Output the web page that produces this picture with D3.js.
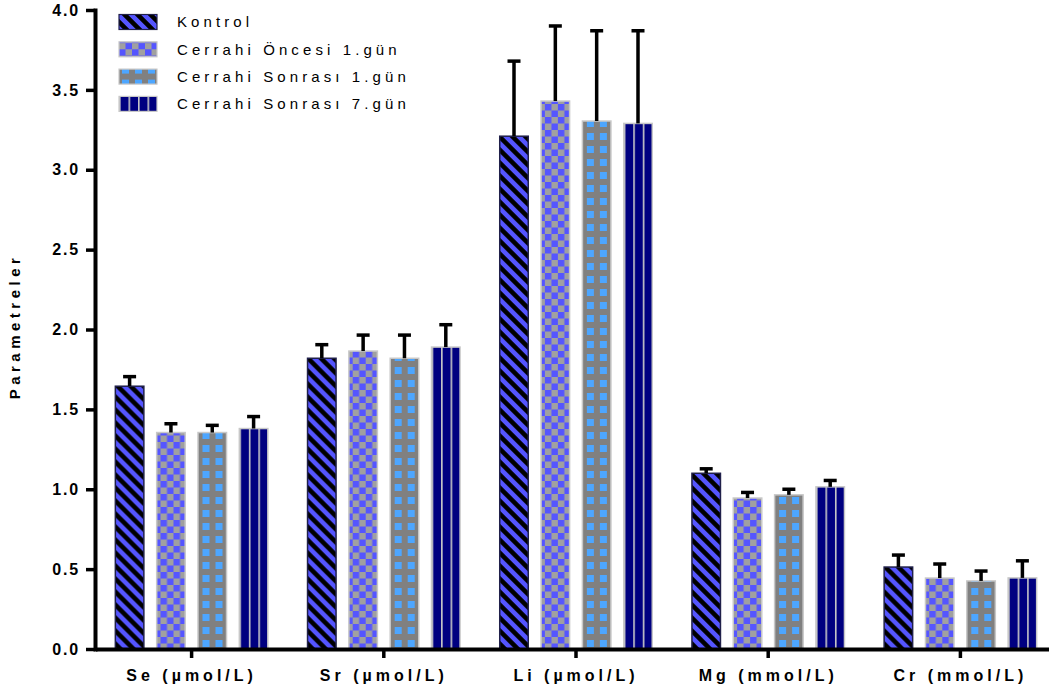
<!DOCTYPE html>
<html>
<head>
<meta charset="utf-8">
<script src="https://cdn.jsdelivr.net/npm/d3@7"></script>
<style>
  html, body { margin: 0; padding: 0; background: #fff; }
  svg { display: block; font-family: "Liberation Sans", Arial, sans-serif; }
</style>
</head>
<body>
<div id="chart"></div>
<script>
// data
const categories = ['Se (µmol/L)', 'Sr (µmol/L)', 'Li (µmol/L)', 'Mg (mmol/L)', 'Cr (mmol/L)'];
const seriesNames = ['Kontrol', 'Cerrahi Öncesi 1.gün', 'Cerrahi Sonrası 1.gün', 'Cerrahi Sonrası 7.gün'];
const kontrol = [1.645, 1.82, 3.21, 1.10, 0.513];
const oncesi1 = [1.355, 1.865, 3.43, 0.945, 0.444];
const sonrasi1 = [1.355, 1.82, 3.305, 0.965, 0.426];
const sonrasi7 = [1.38, 1.89, 3.29, 1.015, 0.445];
const kontrolErr = [0.06, 0.085, 0.47, 0.028, 0.075];
const oncesi1Err = [0.055, 0.10, 0.47, 0.035, 0.088];
const sonrasi1Err = [0.045, 0.145, 0.565, 0.035, 0.062];
const sonrasi7Err = [0.075, 0.14, 0.58, 0.04, 0.107];
const yTicks = [0, 0.5, 1.0, 1.5, 2.0, 2.5, 3.0, 3.5, 4.0];

const values = [kontrol, oncesi1, sonrasi1, sonrasi7];
const errors = [kontrolErr, oncesi1Err, sonrasi1Err, sonrasi7Err];

const width = 1049;
const height = 698;
const margin = { top: 10, right: -7, bottom: 49, left: 95 };

const svg = d3.select('#chart').append('svg')
  .attr('width', width)
  .attr('height', height);

svg.append('rect').attr('width', width).attr('height', height).attr('fill', '#fff');

// patterns
const defs = svg.append('defs');

const pK = defs.append('pattern').attr('id', 'pat0')
  .attr('patternUnits', 'userSpaceOnUse').attr('width', 13).attr('height', 13);
pK.append('rect').attr('width', 13).attr('height', 13).attr('fill', '#5555ff');
pK.append('path').attr('d', 'M-6,-6L19,19M-19,-6L6,19M7,-6L32,19')
  .attr('stroke', '#000').attr('stroke-width', 4.6);

const pO = defs.append('pattern').attr('id', 'pat1')
  .attr('patternUnits', 'userSpaceOnUse').attr('width', 13).attr('height', 13);
pO.append('rect').attr('width', 13).attr('height', 13).attr('fill', '#a0a0a0');
pO.append('rect').attr('width', 6.5).attr('height', 6.5).attr('fill', '#5555ff');
pO.append('rect').attr('x', 6.5).attr('y', 6.5).attr('width', 6.5).attr('height', 6.5).attr('fill', '#5555ff');

const pS1 = defs.append('pattern').attr('id', 'pat2')
  .attr('patternUnits', 'userSpaceOnUse').attr('width', 13).attr('height', 13);
pS1.append('rect').attr('width', 13).attr('height', 13).attr('fill', '#808080');
pS1.append('rect').attr('x', 3).attr('y', 3).attr('width', 7).attr('height', 7).attr('fill', '#4da6ff');

function stripePattern(id, frac) {
  const p = defs.append('pattern').attr('id', id)
    .attr('patternUnits', 'objectBoundingBox').attr('width', frac).attr('height', 1);
  p.append('rect').attr('width', 100).attr('height', 1000).attr('fill', '#000080');
  p.append('rect').attr('width', 1.6).attr('height', 1000).attr('fill', '#c8c8c8');
}
stripePattern('pat3', 1 / 3);
stripePattern('pat3L', 1 / 4);

const strokes = ['#20204a', '#c8c8c8', '#c8c8c8', '#c8c8c8'];

// scales
const x0 = d3.scaleBand()
  .domain(categories)
  .range([margin.left + 0.5, width - margin.right + 0.5]);

const x1 = d3.scaleBand()
  .domain(d3.range(seriesNames.length))
  .range([0, x0.bandwidth()])
  .paddingInner(0.31)
  .paddingOuter(0.48);

const y = d3.scaleLinear()
  .domain([0, 4])
  .range([height - margin.bottom, margin.top]);

// bars
const groups = svg.append('g').selectAll('g')
  .data(categories)
  .join('g')
  .attr('transform', d => `translate(${x0(d)},0)`);

const bars = groups.selectAll('g')
  .data((c, ci) => values.map((v, si) => ({ s: si, v: v[ci], e: errors[si][ci] })))
  .join('g');

bars.append('rect')
  .attr('x', d => x1(d.s))
  .attr('y', d => y(d.v))
  .attr('width', x1.bandwidth())
  .attr('height', d => y(0) - y(d.v))
  .attr('fill', d => `url(#pat${d.s})`)
  .attr('stroke', d => strokes[d.s])
  .attr('stroke-width', 1.5);

// error bars (upper only)
bars.append('line')
  .attr('x1', d => x1(d.s) + x1.bandwidth() / 2)
  .attr('x2', d => x1(d.s) + x1.bandwidth() / 2)
  .attr('y1', d => y(d.v))
  .attr('y2', d => y(d.v + d.e))
  .attr('stroke', '#000')
  .attr('stroke-width', 3.5);

bars.append('line')
  .attr('x1', d => x1(d.s) + x1.bandwidth() / 2 - 6.5)
  .attr('x2', d => x1(d.s) + x1.bandwidth() / 2 + 6.5)
  .attr('y1', d => y(d.v + d.e))
  .attr('y2', d => y(d.v + d.e))
  .attr('stroke', '#000')
  .attr('stroke-width', 3.5);

// y axis
const yAxis = svg.append('g')
  .attr('transform', `translate(${margin.left},0)`)
  .call(d3.axisLeft(y).tickValues(yTicks).tickFormat(d3.format('.1f')).tickSize(9).tickPadding(6).tickSizeOuter(0));
yAxis.select('.domain').attr('stroke-width', 4).attr('stroke-linecap', 'square');
yAxis.selectAll('.tick line').attr('stroke-width', 3.5);
yAxis.selectAll('.tick text')
  .attr('font-size', 16)
  .attr('font-weight', 'bold')
  .attr('letter-spacing', 1.8)
  .attr('fill', '#000')
  .attr('font-family', '"Liberation Sans", Arial, sans-serif');

// x axis
const xAxis = svg.append('g')
  .attr('transform', `translate(0,${y(0)})`)
  .call(d3.axisBottom(x0).tickSize(9).tickPadding(12).tickSizeOuter(0));
xAxis.select('.domain').attr('stroke-width', 4);
xAxis.selectAll('.tick line').attr('stroke-width', 3.5);
xAxis.selectAll('.tick text')
  .attr('font-size', 16)
  .attr('font-weight', 'bold')
  .attr('letter-spacing', 4)
  .attr('fill', '#000')
  .attr('font-family', '"Liberation Sans", Arial, sans-serif');

// y title
svg.append('text')
  .attr('transform', `translate(20,${(y(0) + y(4)) / 2 - 3}) rotate(-90)`)
  .attr('text-anchor', 'middle')
  .attr('font-size', 15)
  .attr('font-weight', 'bold')
  .attr('letter-spacing', 4.5)
  .text('Parametreler');

// legend
const legend = svg.append('g').selectAll('g')
  .data(seriesNames)
  .join('g')
  .attr('transform', (d, i) => `translate(119,${22 + i * 27.3})`);

legend.append('rect')
  .attr('x', 0)
  .attr('y', -7.5)
  .attr('width', 38)
  .attr('height', 15)
  .attr('fill', (d, i) => i === 3 ? 'url(#pat3L)' : `url(#pat${i})`)
  .attr('stroke', (d, i) => strokes[i])
  .attr('stroke-width', 1.2);

legend.append('text')
  .attr('x', 58)
  .attr('dy', '0.36em')
  .attr('font-size', 15)
  .attr('letter-spacing', 4.1)
  .text(d => d);
</script>
</body>
</html>
